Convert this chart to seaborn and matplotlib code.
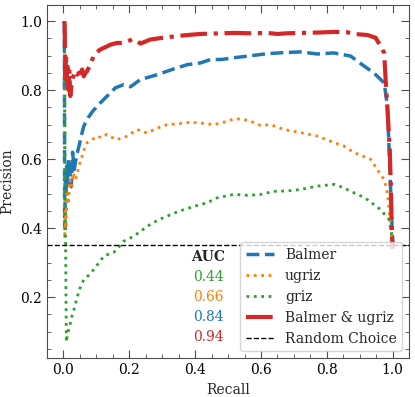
import matplotlib
matplotlib.use('Agg')
import matplotlib.pyplot as plt
import seaborn as sns
import numpy as np
from matplotlib.ticker import MultipleLocator

# Precision-recall curves
balmer_recall = [0.003, 0.004, 0.006, 0.008, 0.010, 0.013, 0.016, 0.020, 0.024, 0.028, 0.033, 0.040,
                 0.048, 0.055, 0.062, 0.075, 0.090, 0.112, 0.135, 0.158, 0.183, 0.204, 0.234, 0.260,
                 0.285, 0.330, 0.376, 0.416, 0.447, 0.480, 0.517, 0.570, 0.619, 0.670, 0.720, 0.771,
                 0.821, 0.872, 0.913, 0.943, 0.974, 0.984, 0.989, 0.994, 0.998, 1.0]
balmer_precision = [1.0, 0.40, 0.55, 0.50, 0.58, 0.53, 0.60, 0.56, 0.52, 0.62, 0.57, 0.61,
                    0.64, 0.67, 0.696, 0.72, 0.74, 0.763, 0.785, 0.807, 0.816, 0.81, 0.831, 0.838,
                    0.845, 0.86, 0.874, 0.879, 0.889, 0.889, 0.894, 0.90, 0.906, 0.909, 0.911, 0.905,
                    0.908, 0.899, 0.87, 0.85, 0.821, 0.754, 0.628, 0.503, 0.40, 0.35]

ugriz_recall = [0.003, 0.004, 0.006, 0.008, 0.011, 0.015, 0.020, 0.025, 0.030, 0.035, 0.040, 0.047,
                0.057, 0.067, 0.072, 0.085, 0.102, 0.117, 0.132, 0.145, 0.158, 0.175, 0.194, 0.224,
                0.254, 0.285, 0.315, 0.350, 0.386, 0.416, 0.457, 0.490, 0.518, 0.545, 0.568, 0.599,
                0.629, 0.670, 0.720, 0.771, 0.822, 0.852, 0.883, 0.933, 0.953, 0.974, 0.984, 0.990,
                0.995, 1.0]
ugriz_precision = [1.0, 0.37, 0.45, 0.40, 0.50, 0.47, 0.54, 0.52, 0.56, 0.54, 0.55, 0.58,
                   0.609, 0.64, 0.648, 0.655, 0.667, 0.662, 0.672, 0.665, 0.657, 0.66, 0.667, 0.686,
                   0.676, 0.69, 0.70, 0.703, 0.707, 0.705, 0.70, 0.708, 0.717, 0.716, 0.71, 0.698,
                   0.70, 0.686, 0.677, 0.667, 0.648, 0.638, 0.619, 0.60, 0.57, 0.541, 0.503, 0.44,
                   0.38, 0.35]

griz_recall = [0.003, 0.006, 0.009, 0.012, 0.016, 0.020, 0.026, 0.034, 0.042, 0.050, 0.062, 0.075,
               0.092, 0.108, 0.123, 0.138, 0.153, 0.168, 0.183, 0.214, 0.240, 0.264, 0.290, 0.315,
               0.340, 0.366, 0.400, 0.437, 0.467, 0.518, 0.560, 0.599, 0.639, 0.680, 0.720, 0.771,
               0.822, 0.850, 0.872, 0.900, 0.923, 0.963, 0.989, 0.996, 1.0]
griz_precision = [1.0, 0.45, 0.07, 0.09, 0.106, 0.12, 0.145, 0.17, 0.2, 0.225, 0.251, 0.262,
                  0.28, 0.30, 0.319, 0.325, 0.33, 0.345, 0.362, 0.377, 0.395, 0.411, 0.425, 0.435,
                  0.445, 0.454, 0.464, 0.474, 0.488, 0.498, 0.495, 0.498, 0.507, 0.508, 0.512, 0.522,
                  0.527, 0.518, 0.507, 0.495, 0.483, 0.454, 0.425, 0.387, 0.35]

both_recall = [0.003, 0.004, 0.006, 0.008, 0.010, 0.012, 0.014, 0.016, 0.018, 0.021, 0.025, 0.030,
               0.036, 0.042, 0.047, 0.052, 0.057, 0.062, 0.067, 0.072, 0.082, 0.092, 0.102, 0.112,
               0.128, 0.143, 0.163, 0.183, 0.209, 0.222, 0.234, 0.264, 0.310, 0.366, 0.416, 0.447,
               0.518, 0.570, 0.619, 0.650, 0.680, 0.720, 0.770, 0.822, 0.862, 0.883, 0.923, 0.948,
               0.963, 0.974, 0.979, 0.984, 0.991, 0.994, 0.997, 1.0]
both_precision = [1.0, 0.99, 0.84, 0.90, 0.83, 0.88, 0.85, 0.80, 0.86, 0.783, 0.82, 0.84,
                  0.855, 0.845, 0.85, 0.85, 0.86, 0.84, 0.85, 0.855, 0.875, 0.899, 0.91, 0.918,
                  0.925, 0.932, 0.937, 0.937, 0.947, 0.945, 0.935, 0.947, 0.953, 0.959, 0.963, 0.964,
                  0.966, 0.965, 0.966, 0.963, 0.965, 0.966, 0.967, 0.969, 0.968, 0.963, 0.96, 0.952,
                  0.928, 0.908, 0.821, 0.745, 0.628, 0.532, 0.40, 0.34]

random_choice = 0.35
auc_values = ['0.44', '0.66', '0.84', '0.94']
auc_colors = ['#2ca02c', '#ff7f0e', '#1f77b4', '#d62728']

sns.set_style('ticks', {'xtick.direction': 'in', 'ytick.direction': 'in'})
plt.rcParams['font.family'] = ['DejaVu Serif']
plt.rcParams['font.size'] = 10

fig = plt.figure(figsize=(4.15, 3.97), dpi=100)
ax = fig.add_axes([0.113, 0.098, 0.873, 0.889])

sns.lineplot(x=balmer_recall, y=balmer_precision, estimator=None, sort=False, ax=ax,
             color='#1f77b4', linestyle='--', linewidth=2.5, label='Balmer')
sns.lineplot(x=ugriz_recall, y=ugriz_precision, estimator=None, sort=False, ax=ax,
             color='#ff7f0e', linestyle=':', linewidth=2, label='ugriz')
sns.lineplot(x=griz_recall, y=griz_precision, estimator=None, sort=False, ax=ax,
             color='#2ca02c', linestyle=':', linewidth=2, label='griz')
sns.lineplot(x=both_recall, y=both_precision, estimator=None, sort=False, ax=ax,
             color='#d62728', linestyle='-.', linewidth=3, label='Balmer & ugriz')
ax.axhline(random_choice, color='black', linestyle='--', linewidth=1, label='Random Choice')

ax.set_xlim(-0.05, 1.05)
ax.set_ylim(0.0235, 1.0465)
ax.xaxis.set_major_locator(MultipleLocator(0.2))
ax.xaxis.set_minor_locator(MultipleLocator(0.05))
ax.yaxis.set_major_locator(MultipleLocator(0.2))
ax.yaxis.set_minor_locator(MultipleLocator(0.05))
ax.tick_params(which='both', direction='in', top=True, right=True, colors='0.3', labelcolor='black')
ax.tick_params(which='major', length=6)
ax.tick_params(which='minor', length=3)
for s in ax.spines.values():
    s.set_color('0.3')

ax.set_xlabel('Recall')
ax.set_ylabel('Precision')

ax.legend(loc='lower right')

ax.text(0.445, 0.286, 'AUC', transform=ax.transAxes, ha='center', va='center', fontweight='bold')
for i, (v, c) in enumerate(zip(auc_values, auc_colors)):
    ax.text(0.445, 0.229 - i * 0.0567, v, transform=ax.transAxes, ha='center', va='center', color=c)

fig.savefig('out.png', dpi=100)
